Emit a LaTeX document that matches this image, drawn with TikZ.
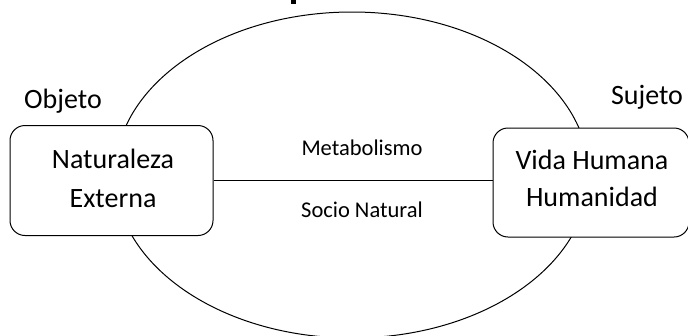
\documentclass[tikz,border=0pt]{standalone}
\usepackage{fontspec}
\setmainfont{Carlito}
\begin{document}
\begin{tikzpicture}[x=1pt,y=-1pt,
  boxstyle/.style={draw, line width=1pt, rounded corners=15pt, inner sep=0pt},
  bigtext/.style={font=\fontsize{28}{33}\selectfont, anchor=base, inner sep=0pt},
  smalltext/.style={font=\fontsize{22.5}{26}\selectfont, anchor=base, inner sep=0pt}]
\useasboundingbox (0,0) rectangle (688,335);
% title fragment
\fill (291,0) rectangle (295.5,4);
% ellipse
\draw[line width=1pt] (352,175) ellipse [x radius=237, y radius=163];
% boxes
\node[boxstyle, fill=white, minimum width=203pt, minimum height=110pt] (nat) at (111.5,180.5) {};
\node[boxstyle, fill=white, minimum width=196pt, minimum height=109pt] (vida) at (591,182.5) {};
\draw[line width=1pt] (nat.east) -- (vida.west |- nat.east);
% texts
\node[bigtext] (t1) at (113,168) {Naturaleza};
\node[bigtext] (t2) at (113,207) {Externa};
\node[bigtext] (t3) at (592,169) {Vida Humana};
\node[bigtext] (t4) at (592,206) {Humanidad};
\node[bigtext] (obj) at (63,108) {Objeto};
\node[bigtext] (suj) at (647,104) {Sujeto};
\node[smalltext] (m1) at (362,155) {Metabolismo};
\node[smalltext] (m2) at (362,217) {Socio Natural};
\end{tikzpicture}
\end{document}
